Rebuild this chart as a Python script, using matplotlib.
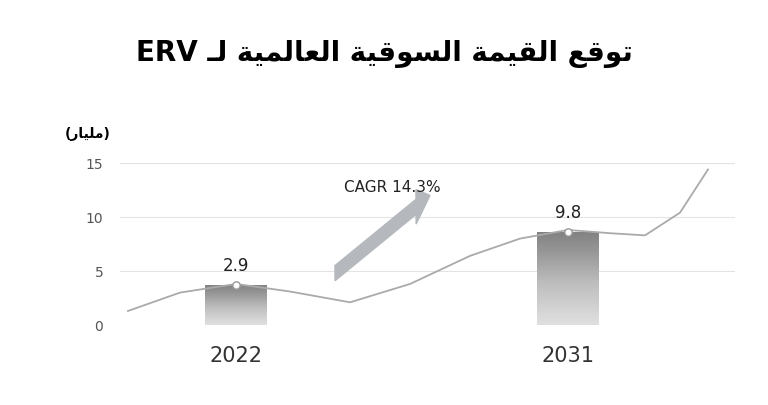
import numpy as np
import matplotlib.pyplot as plt
from matplotlib.patches import FancyArrow

# Arabic shaping (presentation forms: isolated, final, initial, medial)
FORMS = {
    "ا": ("\uFE8D", "\uFE8E", None, None),
    "ل": ("\uFEDD", "\uFEDE", "\uFEDF", "\uFEE0"),
    "ق": ("\uFED5", "\uFED6", "\uFED7", "\uFED8"),
    "ي": ("\uFEF1", "\uFEF2", "\uFEF3", "\uFEF4"),
    "م": ("\uFEE1", "\uFEE2", "\uFEE3", "\uFEE4"),
    "ة": ("\uFE93", "\uFE94", None, None),
    "س": ("\uFEB1", "\uFEB2", "\uFEB3", "\uFEB4"),
    "و": ("\uFEED", "\uFEEE", None, None),
    "ع": ("\uFEC9", "\uFECA", "\uFECB", "\uFECC"),
    "ت": ("\uFE95", "\uFE96", "\uFE97", "\uFE98"),
    "ر": ("\uFEAD", "\uFEAE", None, None),
}


def joins_next(c):
    return c == "ـ" or (c in FORMS and FORMS[c][2] is not None)


def is_ar(c):
    return c == "ـ" or c in FORMS


def shape(s):
    out = []
    for i, c in enumerate(s):
        if c not in FORMS:
            out.append(c)
            continue
        p = i > 0 and is_ar(s[i - 1]) and joins_next(s[i - 1])
        n = i < len(s) - 1 and is_ar(s[i + 1]) and joins_next(c)
        iso, fin, ini, med = FORMS[c]
        if p and n:
            out.append(med)
        elif p:
            out.append(fin)
        elif n:
            out.append(ini)
        else:
            out.append(iso)
    return "".join(out)[::-1]


title = "ERV " + shape("توقع القيمة السوقية العالمية لـ")
unit = "(" + shape("مليار") + ")"

years = ["2022", "2031"]
bar_x = [236, 568]
bar_h = [3.7, 8.6]
bar_labels = ["2.9", "9.8"]
curve_x = [128, 180, 236, 290, 350, 410, 470, 520, 568, 610, 645, 680, 708]
curve_y = [1.3, 3.0, 3.8, 3.1, 2.1, 3.8, 6.4, 8.0, 8.8, 8.5, 8.3, 10.4, 14.4]
yticks = [0, 5, 10, 15]

plt.rcParams['font.family'] = ['DejaVu Sans']
fig = plt.figure(figsize=(7.68, 4.06), dpi=100)
ax = fig.add_axes([120 / 768, 80 / 406, 615 / 768, 162 / 406])
ax.set_xlim(120, 735)
ax.set_ylim(0, 15)
for t in yticks:
    ax.axhline(t, color="#e3e3e3", lw=0.8, zorder=0)
ax.set_yticks(yticks)
ax.set_yticklabels([str(t) for t in yticks], color="#555555", fontsize=10)
ax.tick_params(length=0, pad=12)
ax.set_xticks([])
for s in ax.spines.values():
    s.set_visible(False)

grad = np.linspace(1, 0, 256).reshape(-1, 1)
for x, h, lab, yr in zip(bar_x, bar_h, bar_labels, years):
    im = ax.imshow(grad, extent=(x - 31, x + 31, 0, h), aspect="auto",
                   cmap="Greys", vmin=-0.6, vmax=2.2, zorder=1)
    rect = plt.Rectangle((x - 31, 0), 62, h, transform=ax.transData)
    im.set_clip_path(rect)
    ax.text(x, h + 1.0, lab, ha="center", va="bottom", fontsize=12, color="#222222")
    ax.text(x, -2.8, yr, ha="center", va="center", fontsize=15, color="#333333")

ax.plot(curve_x, curve_y, color="#aaaaaa", lw=1.3, zorder=2, clip_on=False)
ax.scatter(bar_x, bar_h, s=28, facecolor="white", edgecolor="#999999", zorder=3)

ax.add_patch(FancyArrow(335, 4.8, 95, 7.2, width=1.4, head_width=3.2, head_length=14,
                        color="#b5b8bd", length_includes_head=True, zorder=2))
ax.text(392, 12.4, "CAGR 14.3%", ha="center", fontsize=11, color="#222222")

ax.set_xlim(120, 735)
ax.set_ylim(0, 15)
fig.text(0.5, 352 / 406, title, ha="center", va="center", fontsize=20, fontweight="bold")
fig.text(88 / 768, 272 / 406, unit, ha="center", va="center", fontsize=10, fontweight="bold")
fig.savefig("out.png", dpi=100)
